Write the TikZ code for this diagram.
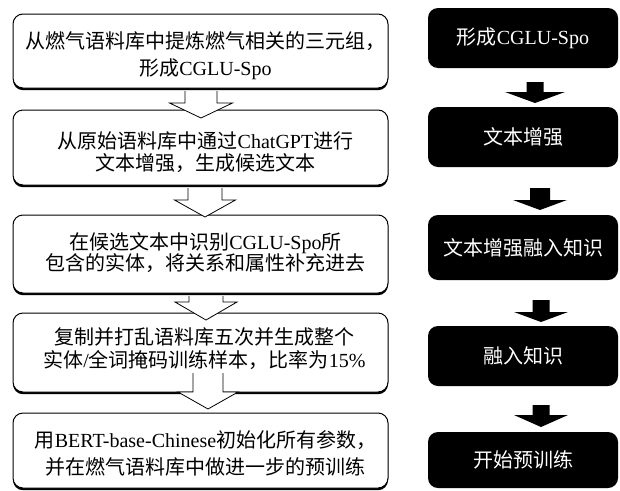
\documentclass[tikz,border=0pt]{standalone}
\usepackage{fontspec}
\setmainfont{Liberation Serif}
\newfontfamily\cjk{Noto Sans CJK SC}
\usetikzlibrary{shadows}
\tikzset{
  txt/.style={align=center, font=\fontsize{20}{#1}\selectfont, inner sep=0pt},
  txt/.default=24,
  lbox/.style={draw=black, line width=1pt, rounded corners=10pt, fill=white,
    minimum width=375pt, inner sep=0pt,
    drop shadow={shadow xshift=0pt, shadow yshift=-2.2pt, opacity=1, fill=black}},
  rbox/.style={txt, fill=black, text=white, rounded corners=10pt, minimum width=190pt},
  warrow/.style={draw=black, line width=0.8pt, fill=white, line join=miter},
  barrow/.style={fill=black, draw=none},
}
\newcommand{\blockarrow}[8]{% style, cx, shaft half, head half, ytop, yhead, ytip
  \path[#1] (#2-#3,#5) -- (#2-#3,#6) -- (#2-#4,#6) -- (#2,#7) -- (#2+#4,#6) -- (#2+#3,#6) -- (#2+#3,#5)#8;}
\begin{document}
\begin{tikzpicture}[x=1pt,y=-1pt]
\useasboundingbox (0,0) rectangle (620,490);
% left boxes
\node[lbox, minimum height=74pt] (L1) at (200.5,51) {};
\node[lbox, minimum height=75pt] (L2) at (200.5,147.5) {};
\node[lbox, minimum height=78pt] (L3) at (200.5,254) {};
\node[lbox, minimum height=79pt] (L4) at (200.5,352.5) {};
\node[lbox, minimum height=75pt] (L5) at (200.5,450.5) {};
% left texts
\node[txt=26.5] (T1) at ([xshift=5pt,yshift=-4.5pt]L1.center)
  {{\cjk 从燃气语料库中提炼燃气相关的三元组，}\\{\cjk 形成}CGLU-Spo};
\node[txt=21.7] (T2) at ([xshift=5pt,yshift=-5pt]L2.center)
  {{\cjk 从原始语料库中通过}ChatGPT{\cjk 进行}\\{\cjk 文本增强，生成候选文本}};
\node[txt=21.7] (T3) at ([xshift=5pt,yshift=1.5pt]L3.center)
  {{\cjk 在候选文本中识别}CGLU-Spo{\cjk 所}\\{\cjk 包含的实体，将关系和属性补充进去}};
\node[txt=23.3] (T4) at ([xshift=4pt,yshift=4pt]L4.center)
  {{\cjk 复制并打乱语料库五次并生成整个}\\{\cjk 实体}/{\cjk 全词掩码训练样本，比率为}15\%};
\node[txt=26.7] (T5) at ([xshift=5pt,yshift=-3pt]L5.center)
  {{\cjk 用}BERT-base-Chinese{\cjk 初始化所有参数，}\\{\cjk 并在燃气语料库中做进一步的预训练}};
% left hollow arrows
\blockarrow{warrow}{201}{16}{31.5}{91}{103}{118}{}
\blockarrow{warrow}{205}{17}{30.5}{188}{200}{217}{}
\blockarrow{warrow}{206}{17}{31}{296}{302}{320}{}
\blockarrow{warrow}{208}{15}{30}{373}{392}{409}{}
% right boxes
\node[rbox, minimum height=60pt] (R1) at (523,38) {{\cjk 形成}CGLU-Spo};
\node[rbox, minimum height=60pt] (R2) at (523,137) {\cjk 文本增强};
\node[rbox, minimum height=65pt] (R3) at (523,247.5) {\cjk 文本增强融入知识};
\node[rbox, minimum height=60pt] (R4) at (523,356) {\cjk 融入知识};
\node[rbox, minimum height=56pt] (R5) at (523,460) {\cjk 开始预训练};
% right filled arrows
\blockarrow{barrow}{535}{8.5}{30}{82}{92}{103}{ -- cycle}
\blockarrow{barrow}{540}{10}{27}{188}{200}{210}{ -- cycle}
\blockarrow{barrow}{541}{8.5}{27}{300}{312}{322}{ -- cycle}
\blockarrow{barrow}{541}{8.5}{27}{405}{415}{427}{ -- cycle}
\end{tikzpicture}
\end{document}
